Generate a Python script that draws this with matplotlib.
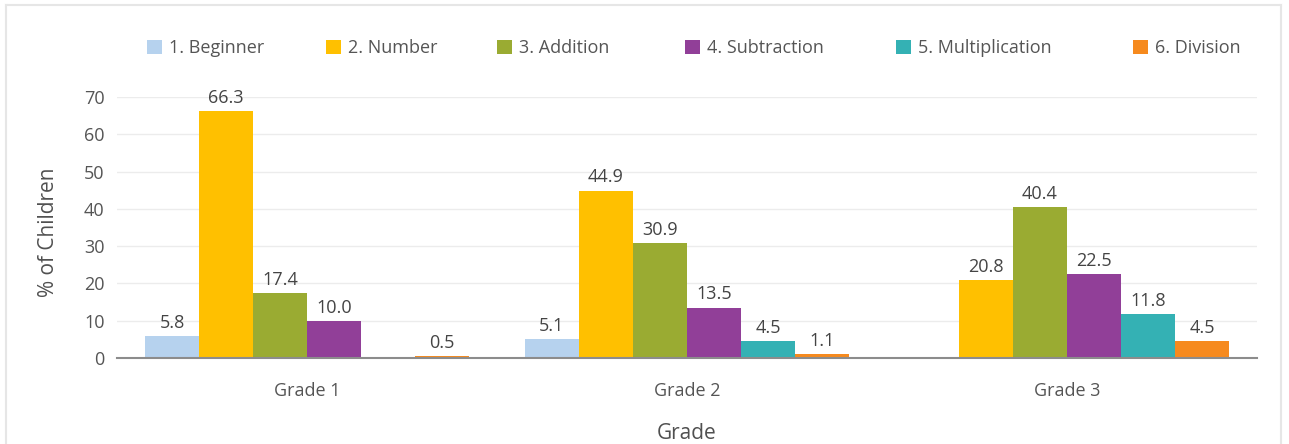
import numpy as np
import matplotlib
matplotlib.use("Agg")
import matplotlib.pyplot as plt
from matplotlib.lines import Line2D
from matplotlib.patches import Patch

plt.rcParams['font.family'] = ['Open Sans', 'DejaVu Sans']

grades = ["Grade 1", "Grade 2", "Grade 3"]
levels = ["1. Beginner", "2. Number", "3. Addition", "4. Subtraction",
          "5. Multiplication", "6. Division"]
beginner = [5.8, 5.1, np.nan]
number = [66.3, 44.9, 20.8]
addition = [17.4, 30.9, 40.4]
subtraction = [10.0, 13.5, 22.5]
multiplication = [np.nan, 4.5, 11.8]
division = [0.5, 1.1, 4.5]
yticks = [0, 10, 20, 30, 40, 50, 60, 70]

series = [beginner, number, addition, subtraction, multiplication, division]
colors = ["#b6d2ee", "#ffc000", "#9aab32", "#913f98", "#34b1b4", "#f68a1e"]

W, H = 1289, 444
fig = plt.figure(figsize=(W / 100, H / 100), dpi=100)
ax_l, ax_r, ax_t, ax_b = 117, 1257, 97, 358
ax = fig.add_axes([ax_l / W, 1 - ax_b / H, (ax_r - ax_l) / W, (ax_b - ax_t) / H])
axw, axh = ax_r - ax_l, ax_b - ax_t

txt = "#555555"
fs = 13

x = np.arange(len(grades))
n = len(series)
group = 0.853
bw = group / n
for i, (vals, col) in enumerate(zip(series, colors)):
    pos = x - group / 2 + bw * (i + 0.5)
    v = np.array(vals, dtype=float)
    ax.bar(pos, np.nan_to_num(v), width=bw, color=col, zorder=3,
           linewidth=0)
    for p, val in zip(pos, v):
        if not np.isnan(val):
            ax.annotate(f"{val:.1f}", (p, val), xytext=(0, 3),
                        textcoords="offset points", ha="center", va="bottom",
                        fontsize=fs, color="#444444", zorder=4)

ax.set_xlim(-0.5, len(grades) - 0.5)
ax.set_ylim(0, 70)
ax.set_yticks(yticks)
ax.set_xticks(x)
ax.set_xticklabels(grades)
ax.tick_params(axis='both', length=0, labelsize=fs, colors=txt)
ax.tick_params(axis='x', pad=17)
ax.tick_params(axis='y', pad=9)
ax.grid(axis='y', color="#ececec", linewidth=1, zorder=0)
for s in ["top", "right", "left"]:
    ax.spines[s].set_visible(False)
ax.spines["bottom"].set_color("#8c8c8c")
ax.spines["bottom"].set_linewidth(1.5)
ax.spines["bottom"].set_zorder(5)

ax.set_ylabel("% of Children", fontsize=15, color="#505050", va="center")
ax.yaxis.set_label_coords(-69 / axw, 0.48)
ax.set_xlabel("Grade", fontsize=15, color="#505050", va="center")
ax.xaxis.set_label_coords(0.5, -75 / axh)

# legend entries laid out along the top
legend_x = [147, 326, 497, 685, 896, 1133]
for lab, col, lx in zip(levels, colors, legend_x):
    leg = fig.legend([Patch(facecolor=col, edgecolor='none')], [lab],
                     loc="center left", bbox_to_anchor=(lx / W, 1 - 48 / H),
                     frameon=False, fontsize=fs, handlelength=0.85,
                     handleheight=0.85, handletextpad=0.35, borderpad=0,
                     borderaxespad=0, labelcolor=txt)

# outer frame
fc = "#e6e6e6"
fig.add_artist(Line2D([6 / W, 1281 / W], [1 - 5 / H, 1 - 5 / H],
                      transform=fig.transFigure, color=fc, linewidth=1.5))
fig.add_artist(Line2D([6 / W, 6 / W], [0, 1 - 5 / H],
                      transform=fig.transFigure, color=fc, linewidth=1.5))
fig.add_artist(Line2D([1281 / W, 1281 / W], [0, 1 - 5 / H],
                      transform=fig.transFigure, color=fc, linewidth=1.5))

fig.savefig("out.png", dpi=100)
